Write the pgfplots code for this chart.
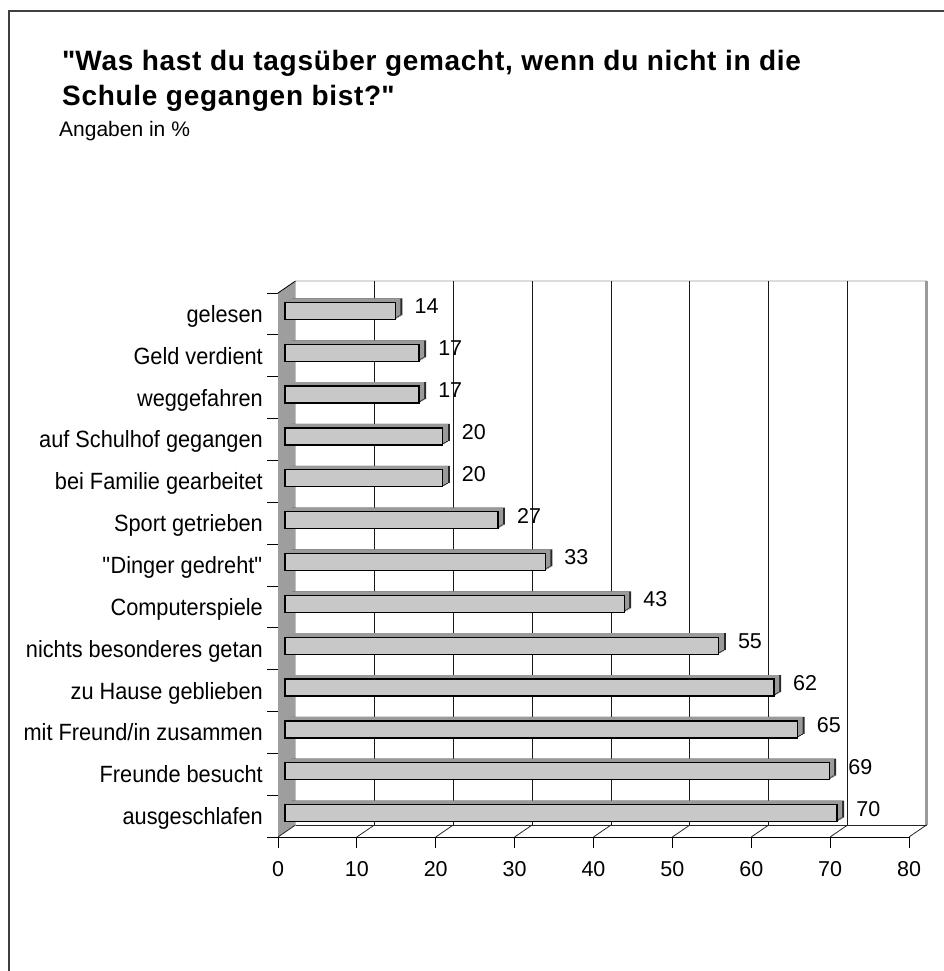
\documentclass[border=0pt]{standalone}
\usepackage{pgfplots}
\pgfplotsset{compat=1.18}
\usepackage{pgfplotstable}
\usepackage{fontspec}
\setmainfont{Liberation Sans}
\newfontfamily\labelfont{Liberation Sans}[FakeStretch=0.925]
\definecolor{wallgray}{HTML}{9E9E9E}
\definecolor{barfront}{HTML}{C8C8C8}
\definecolor{bartop}{HTML}{9A9A9A}
\definecolor{barend}{HTML}{2A2A2A}
\definecolor{edgelight}{HTML}{DCDCDC}
\definecolor{edgegray}{HTML}{9A9A9A}
\definecolor{framegray}{HTML}{404040}

\pgfplotstableread{
idx val
0 70
1 69
2 65
3 62
4 55
5 43
6 33
7 27
8 20
9 20
10 17
11 17
12 14
}\data

\begin{document}
\begin{tikzpicture}
\useasboundingbox (0,0) rectangle (944bp,971bp);
% frame
\draw[framegray, line width=2bp] (9bp,-5bp) -- (9bp,960bp) -- (950bp,960bp);
% titles
\node[anchor=base west, inner sep=0pt, font=\fontsize{28bp}{32bp}\selectfont\bfseries\addfontfeature{LetterSpace=2.5}] at (62bp,900bp) {\textquotedbl Was hast du tagsüber gemacht, wenn du nicht in die};
\node[anchor=base west, inner sep=0pt, font=\fontsize{28bp}{32bp}\selectfont\bfseries\addfontfeature{LetterSpace=2.5}] at (62bp,865bp) {Schule gegangen bist?\textquotedbl};
\node[anchor=base west, inner sep=0pt, font=\fontsize{21bp}{25bp}\selectfont] at (59bp,834bp) {Angaben in \%};

\begin{axis}[
  at={(278bp,134bp)}, anchor=south west,
  scale only axis, width=631bp, height=544bp,
  xmin=0, xmax=80, ymin=-0.5, ymax=12.5,
  clip=false,
  axis x line*=bottom, axis y line*=left,
  axis line style={black, line width=0.8bp, -},
  tick align=outside, major tick length=11bp,
  tick style={black, line width=0.8bp},
  xtick={0,10,...,80},
  xticklabel style={inner sep=0pt, yshift=-13bp, font=\fontsize{21.5bp}{25bp}\selectfont},
  /pgf/number format/assume math mode=true,
  ytick={-0.5,0.5,...,12.5},
  yticklabels={},
  extra y ticks={0,1,2,3,4,5,6,7,8,9,10,11,12},
  extra y tick labels={ausgeschlafen,Freunde besucht,mit Freund/in zusammen,zu Hause geblieben,nichts besonderes getan,Computerspiele,\textquotedbl Dinger gedreht\textquotedbl,Sport getrieben,bei Familie gearbeitet,auf Schulhof gegangen,weggefahren,Geld verdient,gelesen},
  extra y tick style={major tick length=0pt, yticklabel style={anchor=base east, inner sep=0pt, xshift=-15bp, yshift=-8.5bp, font=\labelfont\fontsize{23.5bp}{27bp}\selectfont}},
]
% left wall
\fill[wallgray] (axis cs:0,-0.5) -- (axis cs:0,12.5) -- ([shift={(17.5bp,12bp)}]axis cs:0,12.5) -- ([shift={(17.5bp,12bp)}]axis cs:0,-0.5) -- cycle;
\draw[black, line width=0.8bp] (axis cs:0,12.5) -- ([shift={(17.5bp,12bp)}]axis cs:0,12.5);
% back wall top edge and right edge
\draw[edgelight, line width=1.5bp] ([shift={(17.5bp,12bp)}]axis cs:0,12.5) -- ([shift={(17.5bp,12bp)}]axis cs:80,12.5);
\draw[edgegray, line width=3bp] ([shift={(17.5bp,12bp)}]axis cs:80,-0.5) -- ([shift={(17.5bp,12bp)}]axis cs:80,12.5);
% back grid lines
\pgfplotsinvokeforeach{10,20,30,40,50,60,70}{
  \draw[black!90, line width=0.8bp] ([shift={(17.5bp,12bp)}]axis cs:#1,-0.5) -- ([shift={(17.5bp,12bp)}]axis cs:#1,12.5);
}
% floor
\draw[black!85, line width=0.8bp] ([shift={(17.5bp,12bp)}]axis cs:0,-0.5) -- ([shift={(17.5bp,12bp)}]axis cs:80,-0.5);
\pgfplotsinvokeforeach{0,10,20,30,40,50,60,70,80}{
  \draw[black!85, line width=0.8bp] (axis cs:#1,-0.5) -- ([shift={(17.5bp,12bp)}]axis cs:#1,-0.5);
}
% bars: depth layers (dark end)
\addplot[xbar, bar width=17bp, bar shift=0pt, fill=barend, draw=none, xshift=8.75bp, yshift=4bp] table[x=val,y=idx]{\data};
\addplot[xbar, bar width=17bp, bar shift=0pt, fill=barend, draw=none, xshift=10.5bp, yshift=5bp] table[x=val,y=idx]{\data};
\addplot[xbar, bar width=17bp, bar shift=0pt, fill=barend, draw=none, xshift=12.25bp, yshift=6bp] table[x=val,y=idx]{\data};
\addplot[xbar, bar width=17bp, bar shift=0pt, fill=barend, draw=none, xshift=14bp, yshift=7bp] table[x=val,y=idx]{\data};
% bars: top face layers
\addplot[xbar, bar width=17bp, bar shift=0pt, fill=bartop, draw=none, xshift=6.75bp, yshift=4bp] table[x=val,y=idx]{\data};
\addplot[xbar, bar width=17bp, bar shift=0pt, fill=bartop, draw=none, xshift=8.5bp, yshift=5bp] table[x=val,y=idx]{\data};
\addplot[xbar, bar width=17bp, bar shift=0pt, fill=bartop, draw=none, xshift=10.25bp, yshift=6bp] table[x=val,y=idx]{\data};
\addplot[xbar, bar width=17bp, bar shift=0pt, fill=bartop, draw=none, xshift=12bp, yshift=7bp] table[x=val,y=idx]{\data};
% bars: front face
\addplot[xbar, bar width=17bp, bar shift=0pt, fill=barfront, draw=black, line width=1.3bp, xshift=7bp, yshift=3bp] table[x=val,y=idx]{\data};
% value labels
\addplot[draw=none, mark=none, point meta=x, nodes near coords,
  every node near coord/.append style={anchor=base west, inner sep=0pt, xshift=26bp, yshift=0bp, font=\fontsize{21.5bp}{25bp}\selectfont, black}]
  table[x=val,y=idx]{\data};
\end{axis}
\end{tikzpicture}
\end{document}
